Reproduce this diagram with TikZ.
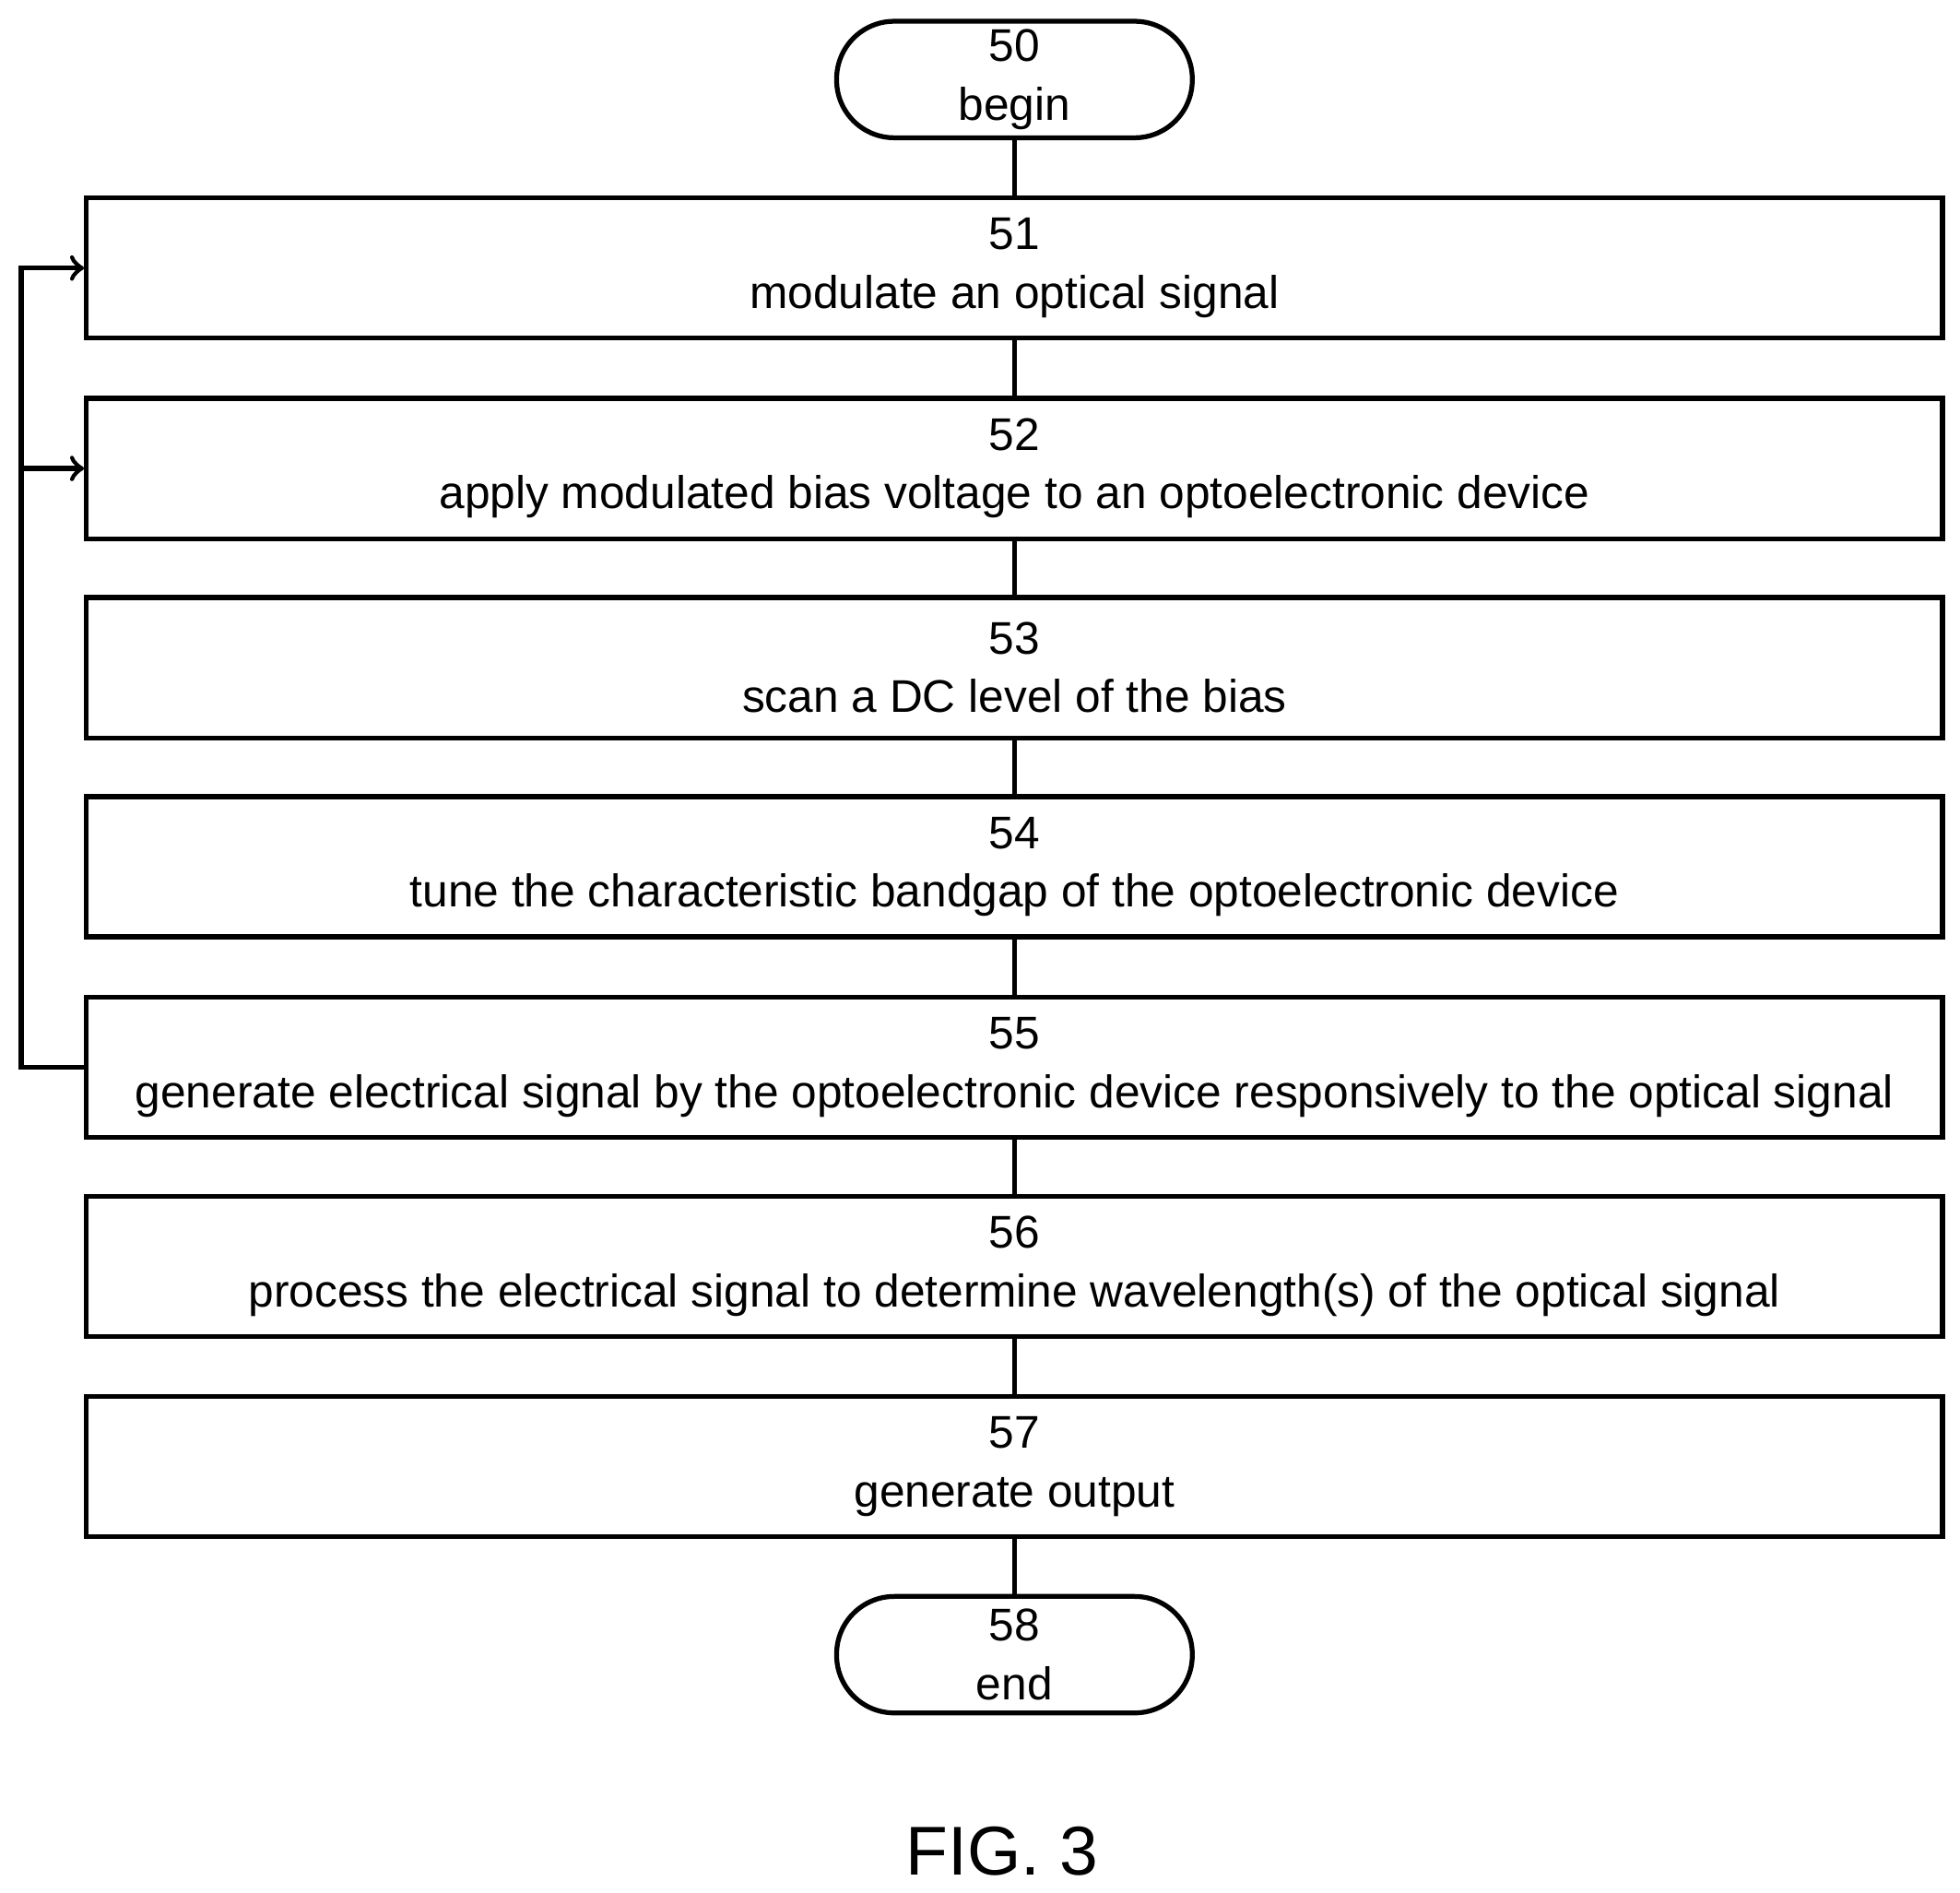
\documentclass[tikz,border=0pt]{standalone}
\usepackage{fontspec}
\setmainfont{Liberation Sans}
\usetikzlibrary{positioning, arrows}

\begin{document}
\begin{tikzpicture}[box/.style={draw, line width=1.1pt, minimum width=14.82cm, minimum height=1.12cm, align=center, inner sep=0pt, font=\fontsize{10.4pt}{13.3pt}\selectfont},
  term/.style={draw, line width=1.1pt, rounded corners=0.46cm, minimum width=2.84cm, minimum height=0.93cm, align=center, inner sep=0pt, font=\fontsize{10.4pt}{13.3pt}\selectfont}]
  \useasboundingbox (0,0) rectangle (15.65,-15.11);

  \node[term] (s50) at (8.10,-0.635) {50\\begin};
  \node[box] (s51) at (8.10,-2.14) {51\\modulate an optical signal};
  \node[box] (s52) at (8.10,-3.74) {52\\apply modulated bias voltage to an optoelectronic device};
  \node[box] (s53) at (8.10,-5.33) {53\\scan a DC level of the bias};
  \node[box] (s54) at (8.10,-6.92) {54\\tune the characteristic bandgap of the optoelectronic device};
  \node[box] (s55) at (8.10,-8.52) {55\\generate electrical signal by the optoelectronic device responsively to the optical signal};
  \node[box] (s56) at (8.10,-10.11) {56\\process the electrical signal to determine wavelength(s) of the optical signal};
  \node[box] (s57) at (8.10,-11.71) {57\\generate output};
  \node[term] (s58) at (8.10,-13.21) {58\\end};

  \node[font=\fontsize{15.7pt}{20pt}\selectfont] (fig) at (8.00,-14.78) {FIG. 3};

  \draw[line width=1.1pt] (s50) -- (s51);
  \draw[line width=1.1pt] (s51) -- (s52);
  \draw[line width=1.1pt] (s52) -- (s53);
  \draw[line width=1.1pt] (s53) -- (s54);
  \draw[line width=1.1pt] (s54) -- (s55);
  \draw[line width=1.1pt] (s55) -- (s56);
  \draw[line width=1.1pt] (s56) -- (s57);
  \draw[line width=1.1pt] (s57) -- (s58);

  \coordinate (loop) at (0.17,-8.52);
  \draw[->, >=to, line width=1.1pt] (s55.west) -- (loop) |- (s51.west);
  \draw[->, >=to, line width=1.1pt] (loop |- s52.west) -- (s52.west);
\end{tikzpicture}
\end{document}
